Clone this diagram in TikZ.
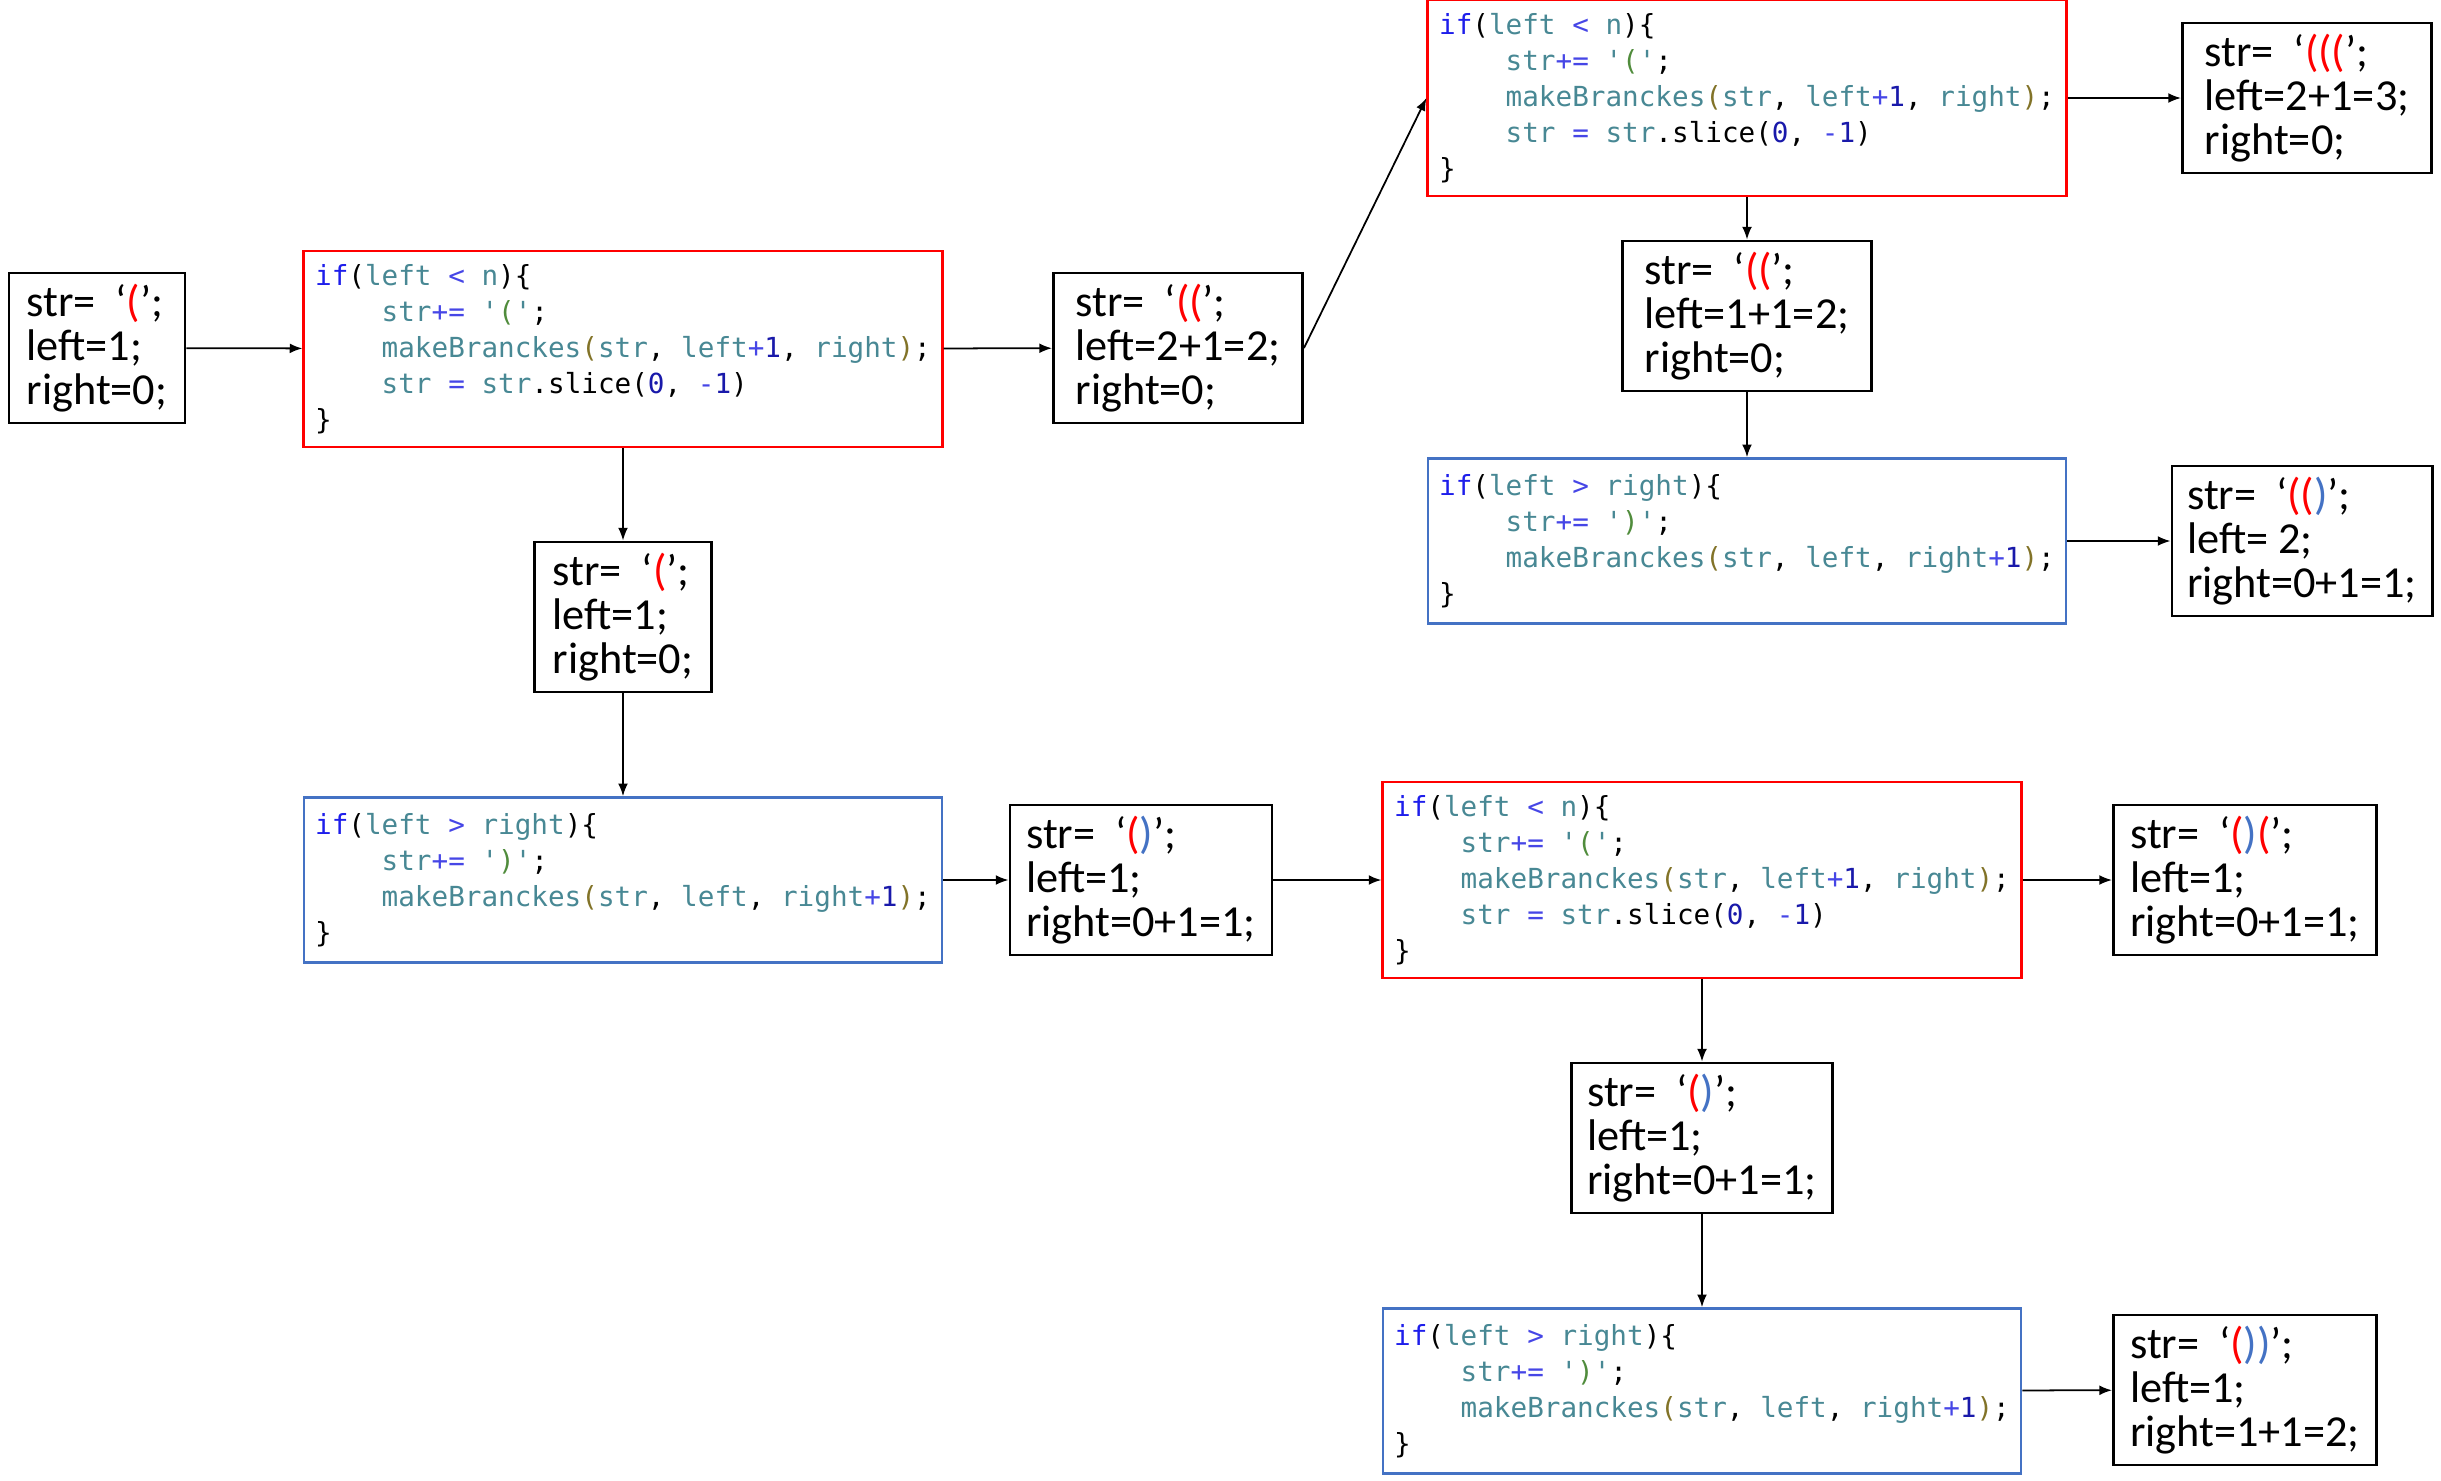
\documentclass[tikz,border=0pt]{standalone}
\usepackage{fontspec}
\setmainfont{Carlito}
\setmonofont{DejaVu Sans Mono}
\usetikzlibrary{arrows.meta}

\definecolor{codered}{RGB}{255,0,0}
\definecolor{codeblue}{RGB}{68,114,196}
\definecolor{parred}{RGB}{255,0,0}
\definecolor{parblue}{RGB}{68,114,196}
\definecolor{kwcol}{RGB}{30,30,235}
\definecolor{idcol}{RGB}{72,136,148}
\definecolor{opcol}{RGB}{70,70,230}
\definecolor{numcol}{RGB}{25,25,170}
\definecolor{pcol}{RGB}{130,115,40}
\definecolor{strcol}{RGB}{80,140,60}

\newcommand{\valfont}{\fontsize{12.6pt}{12.4pt}\selectfont}
\newcommand{\codefont}{\ttfamily\fontsize{7.86pt}{10.2pt}\selectfont}
\newcommand{\ckw}[1]{\textcolor{kwcol}{#1}}
\newcommand{\cid}[1]{\textcolor{idcol}{#1}}
\newcommand{\cop}[1]{\textcolor{opcol}{#1}}
\newcommand{\cnum}[1]{\textcolor{numcol}{#1}}
\newcommand{\cpar}[1]{\textcolor{pcol}{#1}}
\newcommand{\cstr}[1]{\textcolor{strcol}{#1}}
\newcommand{\ind}{\phantom{xxxx}}
\newcommand{\rp}[1]{\textcolor{parred}{#1}}
\newcommand{\bp}[1]{\textcolor{parblue}{#1}}

% if(left < n){...}
\newcommand{\ltcode}{%
\ckw{if}(\cid{left} \cop{<} \cid{n})\{\\
\ind\cid{str}\cop{+=} \cid{'}\cstr{(}\cid{'};\\
\ind\cid{makeBranckes}\cpar{(}\cid{str}, \cid{left}\cop{+}\cnum{1}, \cid{right}\cpar{)};\\
\ind\cid{str} \cop{=} \cid{str}.slice(\cnum{0}, \cop{-}\cnum{1})\\
\}}
% if(left > right){...}
\newcommand{\gtcode}{%
\ckw{if}(\cid{left} \cop{>} \cid{right})\{\\
\ind\cid{str}\cop{+=} \cid{'}\cstr{)}\cid{'};\\
\ind\cid{makeBranckes}\cpar{(}\cid{str}, \cid{left}, \cid{right}\cop{+}\cnum{1}\cpar{)};\\
\}}

\tikzset{
  valbox/.style={draw, line width=0.8pt, align=left, inner sep=0pt,
    minimum height=1.5cm, font=\valfont},
  ltbox/.style={draw=codered, line width=0.8pt, align=left, inner sep=0pt,
    minimum width=6.38cm, minimum height=1.96cm, font=\codefont},
  gtbox/.style={draw=codeblue, line width=0.7pt, align=left, inner sep=0pt,
    minimum width=6.38cm, minimum height=1.65cm, font=\codefont},
}

\begin{document}
\begin{tikzpicture}[x=0.01cm, y=-0.01cm, >={Latex[length=3.6pt,width=2.8pt]}, line width=0.5pt]
    \useasboundingbox (0,0) rectangle (2441,1481);
    % first level
    \node[valbox, minimum width=1.76cm] (s1) at (97,348) {str=~~‘\rp{(}’;\\left=1;\\right=0;};
    \node[ltbox] (lt1) at (623,349) {\ltcode};
    \node[valbox, minimum width=2.49cm] (s2) at (1178,348) {str=~~‘\rp{((}’;\\left=2+1=2;\\right=0;};
    % top right branch
    \node[ltbox] (lt2) at (1747,98) {\ltcode};
    \node[valbox, minimum width=2.49cm] (s3) at (2307,98) {str=~~‘\rp{(((}’;\\left=2+1=3;\\right=0;};
    \node[valbox, minimum width=2.49cm] (s4) at (1747,316) {str=~~‘\rp{((}’;\\left=1+1=2;\\right=0;};
    \node[gtbox] (gt2) at (1747,541) {\gtcode};
    \node[valbox, minimum width=2.60cm] (s5) at (2302,541) {str=~~‘\rp{((}\bp{)}’;\\left= 2;\\right=0+1=1;};
    % left branch
    \node[valbox, minimum width=1.77cm] (s6) at (623,617) {str=~~‘\rp{(}’;\\left=1;\\right=0;};
    \node[gtbox] (gt1) at (623,880) {\gtcode};
    \node[valbox, minimum width=2.62cm] (s7) at (1141,880) {str=~~‘\rp{(}\bp{)}’;\\left=1;\\right=0+1=1;};
    \node[ltbox] (lt3) at (1702,880) {\ltcode};
    \node[valbox, minimum width=2.63cm] (s8) at (2245,880) {str=~~‘\rp{(}\bp{)}\rp{(}’;\\left=1;\\right=0+1=1;};
    \node[valbox, minimum width=2.61cm] (s9) at (1702,1138) {str=~~‘\rp{(}\bp{)}’;\\left=1;\\right=0+1=1;};
    \node[gtbox] (gt3) at (1702,1391) {\gtcode};
    \node[valbox, minimum width=2.63cm] (s10) at (2245,1390) {str=~~‘\rp{(}\bp{))}’;\\left=1;\\right=1+1=2;};
    % arrows
    \draw[->] (s1) -- (lt1);
    \draw[->] (lt1) -- (s2);
    \draw[->] (s2.east) -- (lt2.west);
    \draw[->] (lt2) -- (s3);
    \draw[->] (lt2) -- (s4);
    \draw[->] (s4) -- (gt2);
    \draw[->] (gt2) -- (s5);
    \draw[->] (lt1) -- (s6);
    \draw[->] (s6) -- (gt1);
    \draw[->] (gt1) -- (s7);
    \draw[->] (s7) -- (lt3);
    \draw[->] (lt3) -- (s8);
    \draw[->] (lt3) -- (s9);
    \draw[->] (s9) -- (gt3);
    \draw[->] (gt3) -- (s10);
\end{tikzpicture}
\end{document}
